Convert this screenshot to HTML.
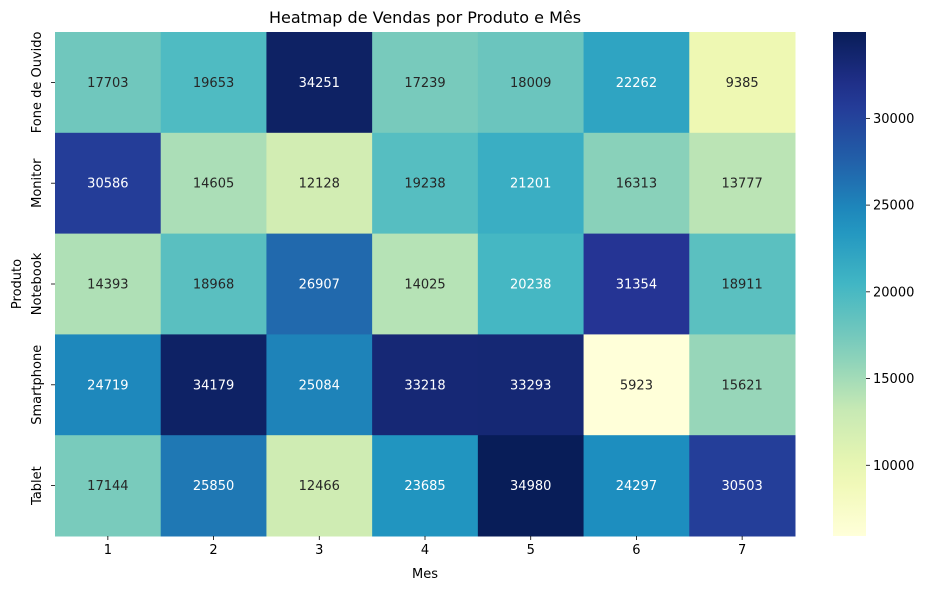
<!DOCTYPE html>
<html><head><meta charset="utf-8">
<style>
html,body{margin:0;padding:0;background:#fff;}
svg{display:block;font-family:"DejaVu Sans","Liberation Sans",sans-serif;}
</style></head>
<body>
<svg id="chart" width="929" height="590"></svg>
<script>
const months = ["1","2","3","4","5","6","7"];
const products = ["Fone de Ouvido","Monitor","Notebook","Smartphone","Tablet"];
const rowFone = [17703,19653,34251,17239,18009,22262,9385];
const rowMonitor = [30586,14605,12128,19238,21201,16313,13777];
const rowNotebook = [14393,18968,26907,14025,20238,31354,18911];
const rowSmartphone = [24719,34179,25084,33218,33293,5923,15621];
const rowTablet = [17144,25850,12466,23685,34980,24297,30503];
const values = [rowFone,rowMonitor,rowNotebook,rowSmartphone,rowTablet];
const cbTicks = [10000,15000,20000,25000,30000];

const NS="http://www.w3.org/2000/svg";
const svg=document.getElementById('chart');
function el(tag,attrs,parent){const e=document.createElementNS(NS,tag);for(const k in attrs)e.setAttribute(k,attrs[k]);(parent||svg).appendChild(e);return e;}

const L=55,R=795,T=32,B=536;
const cw=(R-L)/months.length, rh=(B-T)/products.length;
const xPos=i=>L+i*cw, yPos=j=>T+j*rh;
const flat=values.flat();
const vmin=Math.min(...flat), vmax=Math.max(...flat);

const stops=["#ffffd9","#edf8b1","#c7e9b4","#7fcdbb","#41b6c4","#1d91c0","#225ea8","#253494","#081d58"].map(h=>[parseInt(h.slice(1,3),16),parseInt(h.slice(3,5),16),parseInt(h.slice(5,7),16)]);
function cmap(t){t=Math.max(0,Math.min(1,t));const p=t*(stops.length-1);const i=Math.min(Math.floor(p),stops.length-2);const f=p-i;
 return stops[i].map((c,k)=>Math.round(c+(stops[i+1][k]-c)*f));}
function lum(c){const l=c.map(v=>{v/=255;return v<=0.03928?v/12.92:Math.pow((v+0.055)/1.055,2.4);});return 0.2126*l[0]+0.7152*l[1]+0.0722*l[2];}
const norm=v=>(v-vmin)/(vmax-vmin);

products.forEach((p,j)=>{
 months.forEach((m,i)=>{
  const v=values[j][i];const c=cmap(norm(v));
  const r=el('rect',{x:xPos(i),y:yPos(j),width:cw+0.5,height:rh+0.5,fill:`rgb(${c})`});
  
  
  const t=el('text',{x:xPos(i)+cw/2,y:yPos(j)+rh/2+4.5,'text-anchor':'middle','font-size':13,fill:lum(c)>0.408?'#262626':'#ffffff'});
  t.textContent=v;
  
  
 });
});
months.forEach((m,i)=>{
 el('line',{x1:xPos(i)+cw/2,x2:xPos(i)+cw/2,y1:B,y2:B+4,stroke:'#000','stroke-width':0.8});
 const t=el('text',{x:xPos(i)+cw/2,y:B+18,'text-anchor':'middle','font-size':13,fill:'#000'});t.textContent=m;
 
 
});
products.forEach((p,j)=>{
 const cy=yPos(j)+rh/2;
 el('line',{x1:L-4,x2:L,y1:cy,y2:cy,stroke:'#000','stroke-width':0.8});
 const t=el('text',{x:0,y:0,transform:`translate(41,${cy}) rotate(-90)`,'text-anchor':'middle','font-size':13,fill:'#000'});t.textContent=p;
 
 
});
let t=el('text',{x:(L+R)/2,y:578,'text-anchor':'middle','font-size':13,fill:'#000'});t.textContent='Mes';

t=el('text',{x:0,y:0,transform:`translate(21,284) rotate(-90)`,'text-anchor':'middle','font-size':13,fill:'#000'});t.textContent='Produto';

t=el('text',{x:(L+R)/2,y:23,'text-anchor':'middle','font-size':16,fill:'#000'});t.textContent='Heatmap de Vendas por Produto e Mês';


// colorbar
const CX=833,CW=33;
const defs=el('defs',{});
const g=el('linearGradient',{id:'cb',x1:0,y1:1,x2:0,y2:0},defs);
for(let k=0;k<=20;k++){const c=cmap(k/20);el('stop',{offset:k/20,'stop-color':`rgb(${c})`},g);}
const cb=el('rect',{x:CX,y:T,width:CW,height:B-T,fill:'url(#cb)'});

const cy=v=>B-norm(v)*(B-T);
cbTicks.forEach(v=>{
 el('line',{x1:CX+CW,x2:CX+CW+4,y1:cy(v),y2:cy(v),stroke:'#000','stroke-width':0.8});
 const tt=el('text',{x:CX+CW+7,y:cy(v)+4.5,'font-size':13,fill:'#000'});tt.textContent=v;
 
 
});
</script>
</body></html>
